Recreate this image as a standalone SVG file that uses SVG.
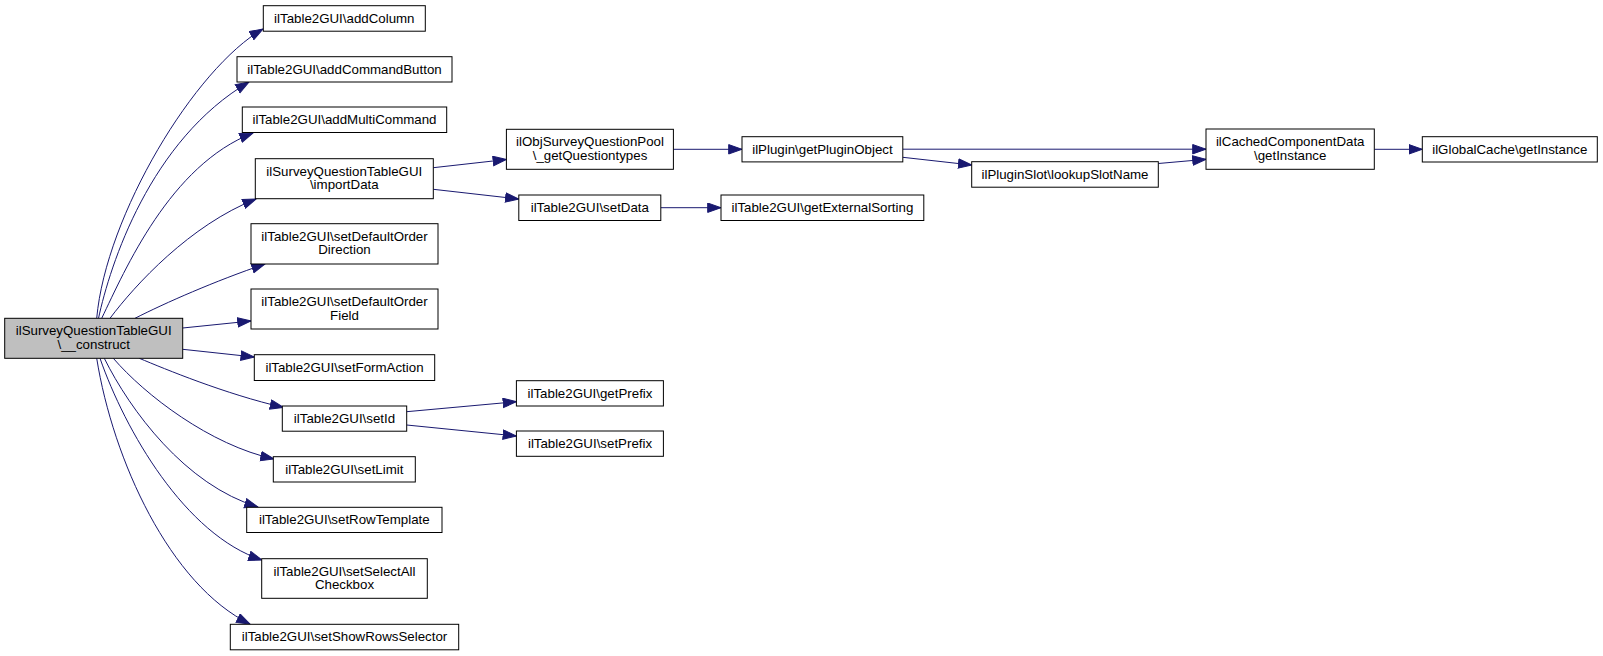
<svg xmlns="http://www.w3.org/2000/svg" width="1603" height="656" viewBox="0 0 1603 656">
<style>
.n rect{fill:#ffffff;stroke:#000000;stroke-width:1}
.n.root rect{fill:#bfbfbf}
.n text{font-family:"Liberation Sans",Arial,sans-serif;font-size:13.3px;fill:#000000;text-anchor:middle}
.e path{fill:none;stroke:#191970;stroke-width:1;marker-end:url(#arr)}
</style>
<defs>
<marker id="arr" markerUnits="userSpaceOnUse" markerWidth="15" markerHeight="11" refX="13.3" refY="4.7" orient="auto" viewBox="-0.5 -0.5 15 11">
<path d="M0,0 L13.3,4.7 L0,9.4 Z" fill="#191970" stroke="#191970" stroke-width="1"/>
</marker>
</defs>
<rect x="0" y="0" width="1603" height="656" fill="#ffffff"/>
<g id="connectors" class="e">
<path d="M96.7,318.3 C106,215 195,68 263,29"/>
<path d="M98.5,318.3 C110,265 150,140 249,82"/>
<path d="M101.7,318.3 C125,270 170,165 253,133"/>
<path d="M110,318.3 C135,285 190,225 256,199"/>
<path d="M135,318.3 C165,303 215,281 265,264"/>
<path d="M182.7,328 L251,321"/>
<path d="M182.7,349.3 L254.3,357"/>
<path d="M139.3,358.3 C165,369 225,394 283.5,407.5"/>
<path d="M113.3,358.3 C145,395 210,445 274,459"/>
<path d="M104.3,358.3 C130,410 185,485 258,507"/>
<path d="M100,358.3 C125,430 185,535 262,560"/>
<path d="M96.7,358.3 C113,460 170,585 250,624"/>
<path d="M433.3,167.7 L506.4,159.5"/>
<path d="M433.3,189.3 L518.8,199"/>
<path d="M673.4,149.3 L742,149.3"/>
<path d="M660.7,207.7 L721,207.7"/>
<path d="M902.8,149.2 L1206,149.2"/>
<path d="M902.8,157.3 L971.7,165"/>
<path d="M1158.3,163.5 L1206,159.3"/>
<path d="M1374.3,149.3 L1422.3,149.3"/>
<path d="M406.7,411.7 L516.4,401.7"/>
<path d="M406.7,425 L516.4,436"/>
</g>
<g id="node-construct" class="n root"><rect x="4.7" y="318.3" width="178" height="40"/><text x="93.7" y="335">ilSurveyQuestionTableGUI</text><text x="93.7" y="349">\__construct</text></g>
<g id="node-addColumn" class="n"><rect x="263.3" y="5.7" width="162" height="25.5"/><text x="344.3" y="22.8">ilTable2GUI\addColumn</text></g>
<g id="node-addCommandButton" class="n"><rect x="237" y="56.7" width="215" height="25.3"/><text x="344.5" y="73.8">ilTable2GUI\addCommandButton</text></g>
<g id="node-addMultiCommand" class="n"><rect x="242.3" y="107" width="204.4" height="25.5"/><text x="344.5" y="124.1">ilTable2GUI\addMultiCommand</text></g>
<g id="node-importData" class="n"><rect x="255.3" y="158.7" width="178" height="40"/><text x="344.3" y="175.5">ilSurveyQuestionTableGUI</text><text x="344.3" y="189.3">\importData</text></g>
<g id="node-setDefaultOrderDirection" class="n"><rect x="251" y="223.7" width="187" height="40.3"/><text x="344.5" y="240.6">ilTable2GUI\setDefaultOrder</text><text x="344.5" y="254.4">Direction</text></g>
<g id="node-setDefaultOrderField" class="n"><rect x="251" y="289" width="187" height="40"/><text x="344.5" y="305.8">ilTable2GUI\setDefaultOrder</text><text x="344.5" y="319.6">Field</text></g>
<g id="node-setFormAction" class="n"><rect x="254.3" y="354.7" width="180.4" height="25.8"/><text x="344.5" y="372">ilTable2GUI\setFormAction</text></g>
<g id="node-setId" class="n"><rect x="282.3" y="406" width="124.4" height="25.2"/><text x="344.5" y="423">ilTable2GUI\setId</text></g>
<g id="node-setLimit" class="n"><rect x="273.3" y="456.7" width="142" height="25.3"/><text x="344.3" y="473.8">ilTable2GUI\setLimit</text></g>
<g id="node-setRowTemplate" class="n"><rect x="246.7" y="507.3" width="195.3" height="25.2"/><text x="344.3" y="524.3">ilTable2GUI\setRowTemplate</text></g>
<g id="node-setSelectAllCheckbox" class="n"><rect x="261.7" y="558.7" width="165.6" height="39.6"/><text x="344.5" y="575.5">ilTable2GUI\setSelectAll</text><text x="344.5" y="589.3">Checkbox</text></g>
<g id="node-setShowRowsSelector" class="n"><rect x="230.3" y="624.3" width="228.4" height="25.5"/><text x="344.5" y="641.4">ilTable2GUI\setShowRowsSelector</text></g>
<g id="node-getQuestiontypes" class="n"><rect x="506.4" y="129.3" width="167" height="40"/><text x="590" y="146">ilObjSurveyQuestionPool</text><text x="590" y="159.8">\_getQuestiontypes</text></g>
<g id="node-setData" class="n"><rect x="518.8" y="195" width="142" height="25.5"/><text x="589.8" y="212.2">ilTable2GUI\setData</text></g>
<g id="node-getPrefix" class="n"><rect x="516.4" y="380.7" width="147" height="25.3"/><text x="590" y="397.8">ilTable2GUI\getPrefix</text></g>
<g id="node-setPrefix" class="n"><rect x="516.4" y="431" width="147" height="25.3"/><text x="590" y="448.1">ilTable2GUI\setPrefix</text></g>
<g id="node-getPluginObject" class="n"><rect x="742" y="136.7" width="160.8" height="25.2"/><text x="822.4" y="153.8">ilPlugin\getPluginObject</text></g>
<g id="node-getExternalSorting" class="n"><rect x="721" y="195" width="202.8" height="25.5"/><text x="822.4" y="212.2">ilTable2GUI\getExternalSorting</text></g>
<g id="node-lookupSlotName" class="n"><rect x="971.7" y="161.7" width="186.6" height="25.5"/><text x="1065" y="178.9">ilPluginSlot\lookupSlotName</text></g>
<g id="node-CachedComponentData" class="n"><rect x="1206" y="129" width="168.3" height="40.3"/><text x="1290.2" y="145.9">ilCachedComponentData</text><text x="1290.2" y="159.7">\getInstance</text></g>
<g id="node-GlobalCache" class="n"><rect x="1422.3" y="136.7" width="175" height="25.3"/><text x="1509.8" y="153.8">ilGlobalCache\getInstance</text></g>
</svg>
